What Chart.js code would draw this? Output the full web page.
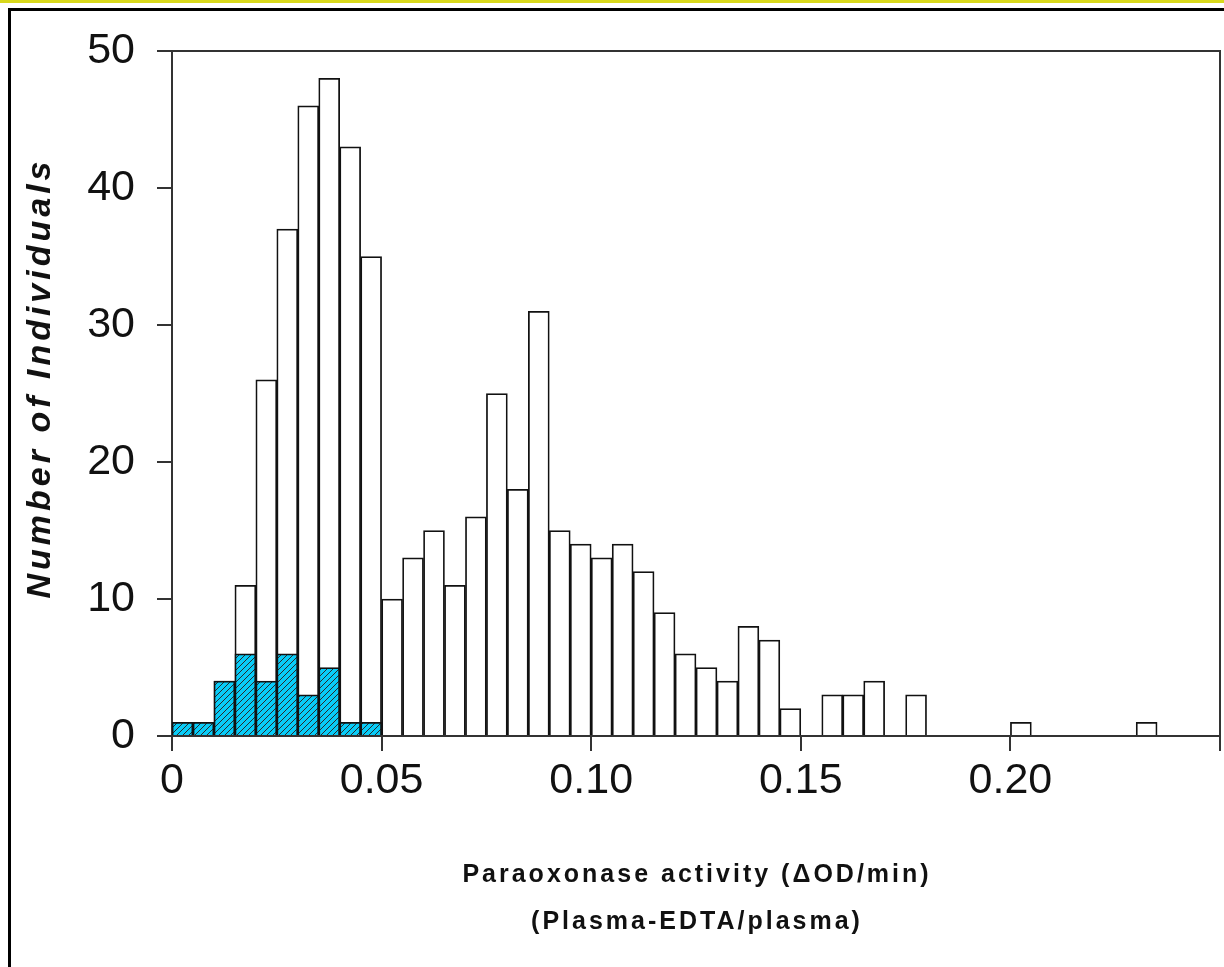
<!DOCTYPE html>
<html>
<head>
<meta charset="utf-8">
<script src="https://cdn.jsdelivr.net/npm/chart.js@4.4.1/dist/chart.umd.min.js"></script>
<style>
  html, body { margin: 0; padding: 0; background: #fff; }
  #page { position: relative; width: 1224px; height: 967px; overflow: hidden; }
  #topStrip { position: absolute; left: 0; top: 0; width: 1224px; height: 3px; background: #d8d81c; }
  #frame { position: absolute; left: 8px; top: 8px; width: 1240px; height: 980px; border-left: 3px solid #000; border-top: 3px solid #000; }
  #chartBox { position: absolute; left: 0; top: 0; width: 1224px; height: 967px; }
</style>
</head>
<body>
<div id="page">
  <div id="topStrip"></div>
  <div id="frame"></div>
  <div id="chartBox"><canvas id="histChart"></canvas></div>
</div>
<script>
// bins of 0.005 (start of each bin)
const bins = ['0.000', '0.005', '0.010', '0.015', '0.020', '0.025', '0.030', '0.035', '0.040', '0.045',
              '0.050', '0.055', '0.060', '0.065', '0.070', '0.075', '0.080', '0.085', '0.090', '0.095',
              '0.100', '0.105', '0.110', '0.115', '0.120', '0.125', '0.130', '0.135', '0.140', '0.145',
              '0.150', '0.155', '0.160', '0.165', '0.170', '0.175', '0.180', '0.185', '0.190', '0.195',
              '0.200', '0.205', '0.210', '0.215', '0.220', '0.225', '0.230', '0.235', '0.240', '0.245'];

// all individuals (open bars)
const allCounts = [1, 1, 4, 11, 26, 37, 46, 48, 43, 35,
                   10, 13, 15, 11, 16, 25, 18, 31, 15, 14,
                   13, 14, 12, 9, 6, 5, 4, 8, 7, 2,
                   0, 3, 3, 4, 0, 3, 0, 0, 0, 0,
                   1, 0, 0, 0, 0, 0, 1, 0, 0, 0];

// hatched subgroup
const hatchedCounts = [1, 1, 4, 6, 4, 6, 3, 5, 1, 1,
                       0, 0, 0, 0, 0, 0, 0, 0, 0, 0,
                       0, 0, 0, 0, 0, 0, 0, 0, 0, 0,
                       0, 0, 0, 0, 0, 0, 0, 0, 0, 0,
                       0, 0, 0, 0, 0, 0, 0, 0, 0, 0];

const xTickValues = [0, 0.05, 0.10, 0.15, 0.20, 0.25];
const xTickLabels = ['0', '0.05', '0.10', '0.15', '0.20', ''];
const yTickValues = [0, 10, 20, 30, 40, 50];

const xTitle = ['Paraoxonase activity (\u0394OD/min)', '(Plasma-EDTA/plasma)'];
const yTitle = 'Number of Individuals';

function makeHatch() {
    const c = document.createElement('canvas');
    c.width = 6;
    c.height = 6;
    const g = c.getContext('2d');
    g.fillStyle = '#08ccf8';
    g.fillRect(0, 0, 6, 6);
    g.strokeStyle = '#2a2a2a';
    g.lineWidth = 1;
    g.beginPath();
    g.moveTo(-1, 7); g.lineTo(7, -1);
    g.moveTo(-4, 4); g.lineTo(4, -4);
    g.moveTo(2, 10); g.lineTo(10, 2);
    g.stroke();
    return g.createPattern(c, 'repeat');
}

// top and right border of the plot box
const plotBox = {
    id: 'plotBox',
    afterDraw(chart) {
        const a = chart.chartArea;
        const ctx = chart.ctx;
        ctx.save();
        ctx.strokeStyle = '#333';
        ctx.lineWidth = 2;
        ctx.beginPath();
        ctx.moveTo(a.left, a.top);
        ctx.lineTo(a.right, a.top);
        ctx.lineTo(a.right, a.bottom);
        ctx.stroke();
        ctx.restore();
    }
};

// letter-spaced axis titles
const axisTitles = {
    id: 'axisTitles',
    afterDraw(chart) {
        const a = chart.chartArea;
        const ctx = chart.ctx;
        ctx.save();
        ctx.fillStyle = '#111';
        ctx.textAlign = 'center';
        ctx.textBaseline = 'alphabetic';
        ctx.font = 'bold 25px "Liberation Sans", Arial, sans-serif';
        ctx.letterSpacing = '3px';
        const cx = (a.left + a.right) / 2 + 1;
        ctx.fillText(xTitle[0], cx, 882);
        ctx.fillText(xTitle[1], cx, 929);
        ctx.translate(50, 378);
        ctx.rotate(-Math.PI / 2);
        ctx.font = 'italic bold 34px "Liberation Sans", Arial, sans-serif';
        ctx.letterSpacing = '4px';
        ctx.fillText(yTitle, 0, 0);
        ctx.restore();
    }
};

const ctx = document.getElementById('histChart').getContext('2d');
const histChart = new Chart(ctx, {
    type: 'bar',
    data: {
        labels: bins,
        datasets: [{
            data: hatchedCounts,
            backgroundColor: makeHatch(),
            borderColor: '#111',
            borderWidth: 1.75
        }, {
            data: allCounts,
            backgroundColor: '#fff',
            borderColor: '#111',
            borderWidth: 1.75
        }]
    },
    options: {
        responsive: true,
        maintainAspectRatio: false,
        animation: false,
        grouped: false,
        barPercentage: 1,
        categoryPercentage: 1,
        layout: { padding: { top: 51, right: 3, left: 0, bottom: 0 } },
        plugins: {
            legend: { display: false },
            tooltip: { enabled: false }
        },
        scales: {
            x: {
                type: 'category',
                display: false,
                offset: true
            },
            xTicks: {
                type: 'linear',
                position: 'bottom',
                min: 0,
                max: 0.25,
                offset: false,
                afterBuildTicks: s => { s.ticks = xTickValues.map(v => ({ value: v })); },
                afterFit: s => { s.height = 231; },
                grid: { offset: false, drawOnChartArea: false, drawTicks: true, tickLength: 15, color: '#333', lineWidth: 2 },
                border: { display: true, color: '#333', width: 2 },
                ticks: {
                    autoSkip: false,
                    maxRotation: 0,
                    padding: 4,
                    color: '#111',
                    font: { family: '"Liberation Sans", Arial, sans-serif', size: 43 },
                    callback: (v, i) => xTickLabels[i]
                }
            },
            y: {
                min: 0,
                max: 50,
                afterBuildTicks: s => { s.ticks = yTickValues.map(v => ({ value: v })); },
                afterFit: s => { s.width = 172; },
                grid: { drawOnChartArea: false, drawTicks: true, tickLength: 15, color: '#333', lineWidth: 2 },
                border: { display: true, color: '#333', width: 2 },
                ticks: {
                    padding: 22,
                    color: '#111',
                    font: { family: '"Liberation Sans", Arial, sans-serif', size: 43 }
                }
            }
        }
    },
    plugins: [plotBox, axisTitles]
});
</script>
</body>
</html>
